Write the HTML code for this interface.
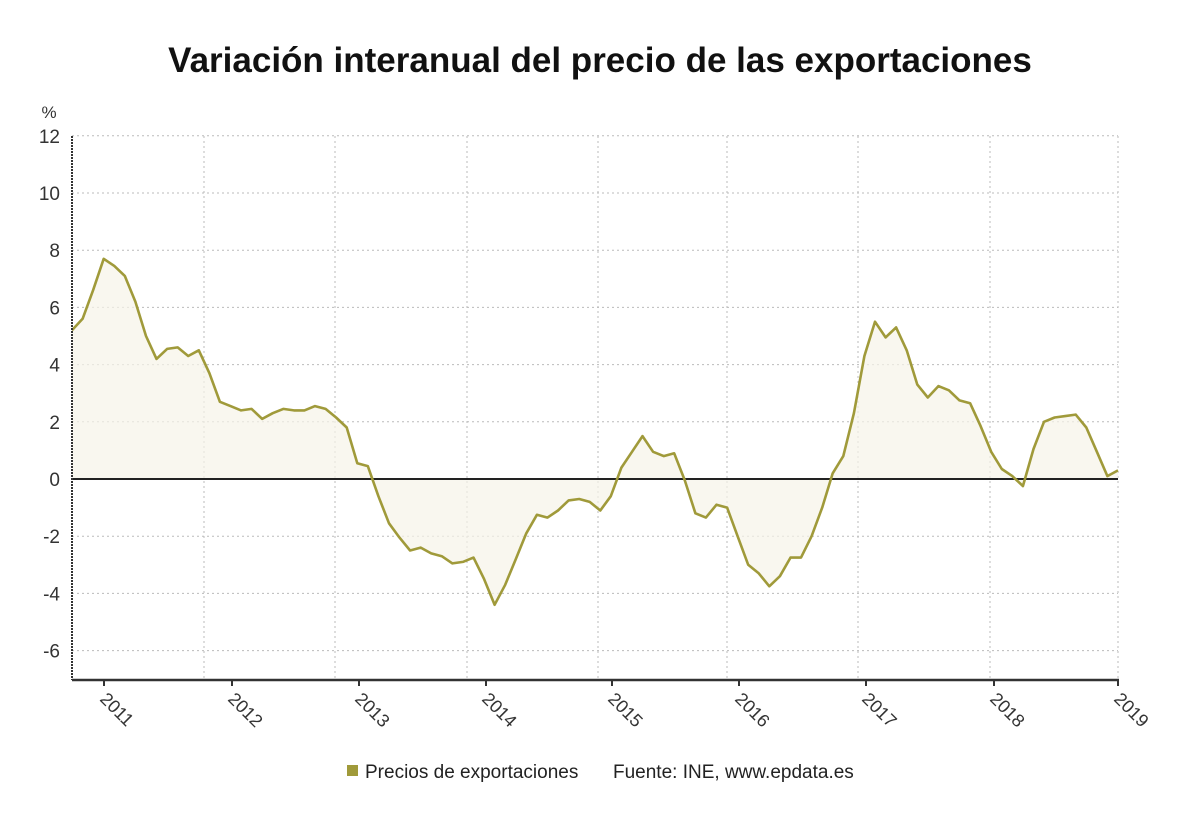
<!DOCTYPE html>
<html><head><meta charset="utf-8">
<style>
body{margin:0;background:#fff;width:1200px;height:808px;overflow:hidden;font-family:"Liberation Sans","DejaVu Sans",sans-serif;}
</style></head>
<body>
<svg id="chart" width="1200" height="808" xmlns="http://www.w3.org/2000/svg">
<text x="600" y="72" text-anchor="middle" font-size="35" font-weight="bold" fill="#111">Variación interanual del precio de las exportaciones</text>
<text x="49" y="118" text-anchor="middle" font-size="17" fill="#333">%</text>
<g id="grid"></g>
<path id="area" fill="#f7f4e8" fill-opacity="0.7"/>
<line x1="72" x2="1118" y1="479" y2="479" stroke="#222" stroke-width="2"/>
<path id="line" fill="none" stroke="#a09a3a" stroke-width="2.6" stroke-linejoin="round"/>
<line x1="72" x2="72" y1="136" y2="680" stroke="#333" stroke-width="2" stroke-dasharray="2,1"/>
<line x1="72" x2="1119" y1="680" y2="680" stroke="#333" stroke-width="2.5"/>
<g id="ticks"></g>
<rect x="347" y="765" width="11" height="11" fill="#a09a3a"/>
<text x="365" y="778" font-size="19" fill="#222">Precios de exportaciones</text>
<text x="613" y="778" font-size="19" fill="#222">Fuente: INE, www.epdata.es</text>
</svg>
<script>
const values=[5.2,5.6,6.6,7.7,7.45,7.1,6.2,5.0,4.2,4.55,4.6,4.3,4.5,3.7,2.7,2.55,2.4,2.45,2.1,2.3,2.45,2.4,2.4,2.55,2.45,2.15,1.8,0.55,0.45,-0.6,-1.55,-2.05,-2.5,-2.4,-2.6,-2.7,-2.95,-2.9,-2.75,-3.5,-4.4,-3.7,-2.8,-1.9,-1.25,-1.35,-1.1,-0.75,-0.7,-0.8,-1.1,-0.6,0.4,0.95,1.5,0.95,0.8,0.9,-0.05,-1.2,-1.35,-0.9,-1.0,-2.0,-3.0,-3.3,-3.75,-3.4,-2.75,-2.75,-2.0,-1.0,0.2,0.8,2.3,4.3,5.5,4.95,5.3,4.5,3.3,2.85,3.25,3.1,2.75,2.65,1.85,0.95,0.35,0.1,-0.25,1.05,2.0,2.15,2.2,2.25,1.8,0.95,0.1,0.3];
const yTicks=[12,10,8,6,4,2,0,-2,-4,-6];
const years=["2011","2012","2013","2014","2015","2016","2017","2018","2019"];
const yearTickX=[104,232,359,486,612,739,866,994,1118];
const vGridX=[204,335,467,598,727,858,990,1118];
const NS="http://www.w3.org/2000/svg";
const y=v=>479-v*28.6;
const x=i=>72+i*(1046/(values.length-1));
const grid=document.getElementById('grid'),ticks=document.getElementById('ticks');
function mk(tag,attrs,parent){const e=document.createElementNS(NS,tag);for(const k in attrs)e.setAttribute(k,attrs[k]);parent.appendChild(e);return e;}
yTicks.forEach(t=>{
  if(t!==0){const g=mk('line',{x1:72,x2:1118,y1:y(t),y2:y(t),stroke:'#bbb','stroke-dasharray':'2,3'},grid);
  
  }
  const l=mk('text',{x:60,y:y(t)+7,'text-anchor':'end','font-size':'19',fill:'#333'},ticks);
  l.textContent=t;
  
  
});
vGridX.forEach(gx=>{const g=mk('line',{x1:gx,x2:gx,y1:136,y2:680,stroke:'#bbb','stroke-dasharray':'2,3'},grid);
  
  });
years.forEach((yr,i)=>{
  const tx=yearTickX[i];
  mk('line',{x1:tx,x2:tx,y1:680,y2:686,stroke:'#333','stroke-width':2},ticks);
  const l=mk('text',{x:0,y:0,'font-size':'18',fill:'#333',transform:`translate(${tx-5},${700}) rotate(45)`},ticks);
  l.textContent=yr;
  
  
});
let d=values.map((v,i)=>(i?'L':'M')+x(i).toFixed(1)+','+y(v).toFixed(1)).join('');
document.getElementById('line').setAttribute('d',d);
document.getElementById('area').setAttribute('d',d+`L${x(values.length-1)},479L72,479Z`);
</script>
</body></html>
